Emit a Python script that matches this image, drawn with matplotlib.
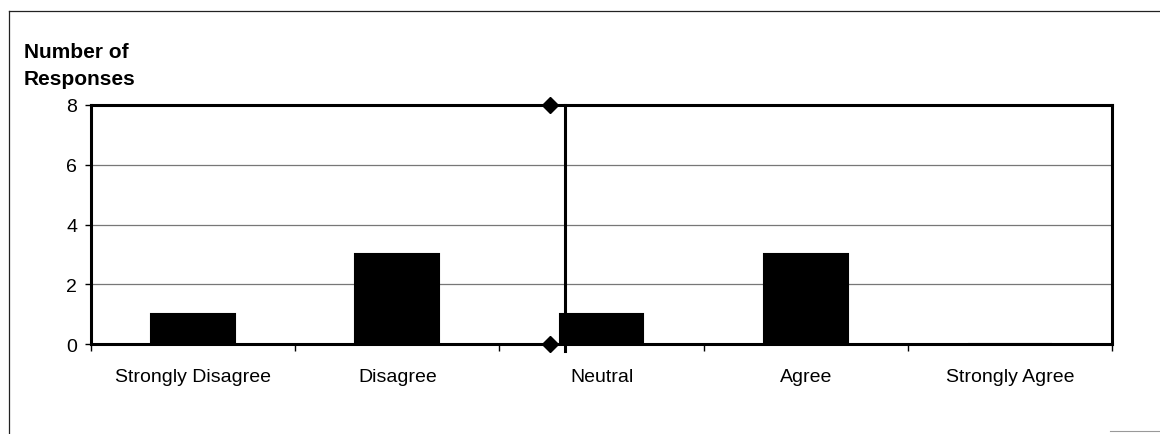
import matplotlib.pyplot as plt
from matplotlib.lines import Line2D

categorias = ['Strongly Disagree', 'Disagree', 'Neutral', 'Agree', 'Strongly Agree']
respostas = [1, 3, 1, 3, 0]
media_x = 1.75       # mean response position (diamonds)
linha_x = 1.82       # vertical reference line

plt.rcParams['font.family'] = ['Liberation Sans', 'DejaVu Sans']

fig = plt.figure(figsize=(11.6, 4.35), dpi=100)
ax = fig.add_axes([91 / 1160, 1 - 345 / 435, (1112 - 91) / 1160, (345 - 106) / 435])

x = list(range(len(categorias)))
ax.bar(x, respostas, width=0.41, color='black',
       edgecolor='black', linewidth=1.5, zorder=3)

ax.set_xlim(-0.5, 4.5)
ax.set_ylim(0, 8)
ax.set_yticks([0, 2, 4, 6, 8])
ax.set_yticklabels(['0', '2', '4', '6', '8'], fontsize=14)
ax.yaxis.grid(True, color='#777777', linewidth=0.9, zorder=0)

# category labels centered, ticks on bin boundaries
ax.set_xticks([i - 0.5 for i in range(len(categorias) + 1)])
ax.set_xticklabels([])
ax.set_xticks(x, minor=True)
ax.set_xticklabels(categorias, minor=True, fontsize=14)
ax.tick_params(axis='x', which='minor', length=0, pad=17)
ax.tick_params(axis='x', which='major', length=5, width=1, direction='out')
ax.tick_params(axis='y', length=4, width=1, direction='out', pad=6)

for s in ax.spines.values():
    s.set_linewidth(2.2)
    s.set_color('black')

ax.plot([linha_x, linha_x], [-0.25, 8], color='black', linewidth=2.2, zorder=4, clip_on=False)
ax.plot([media_x, media_x], [0, 8], linestyle='none', marker='D', markersize=8,
        color='black', zorder=5, clip_on=False)

fig.text(24 / 1160, 1 - 66 / 435, 'Number of\nResponses', fontsize=15, fontweight='bold',
         ha='left', va='center', linespacing=1.5)

# outer frame
fig.add_artist(Line2D([9 / 1160, 1.0], [1 - 12 / 435, 1 - 12 / 435], color='#222222', linewidth=0.9))
fig.add_artist(Line2D([9 / 1160, 9 / 1160], [0.0, 1 - 12 / 435], color='#222222', linewidth=0.9))
fig.add_artist(Line2D([1110 / 1160, 1.0], [1 - 432 / 435, 1 - 432 / 435], color='#999999', linewidth=0.8))

fig.savefig('out.png', dpi=100)
